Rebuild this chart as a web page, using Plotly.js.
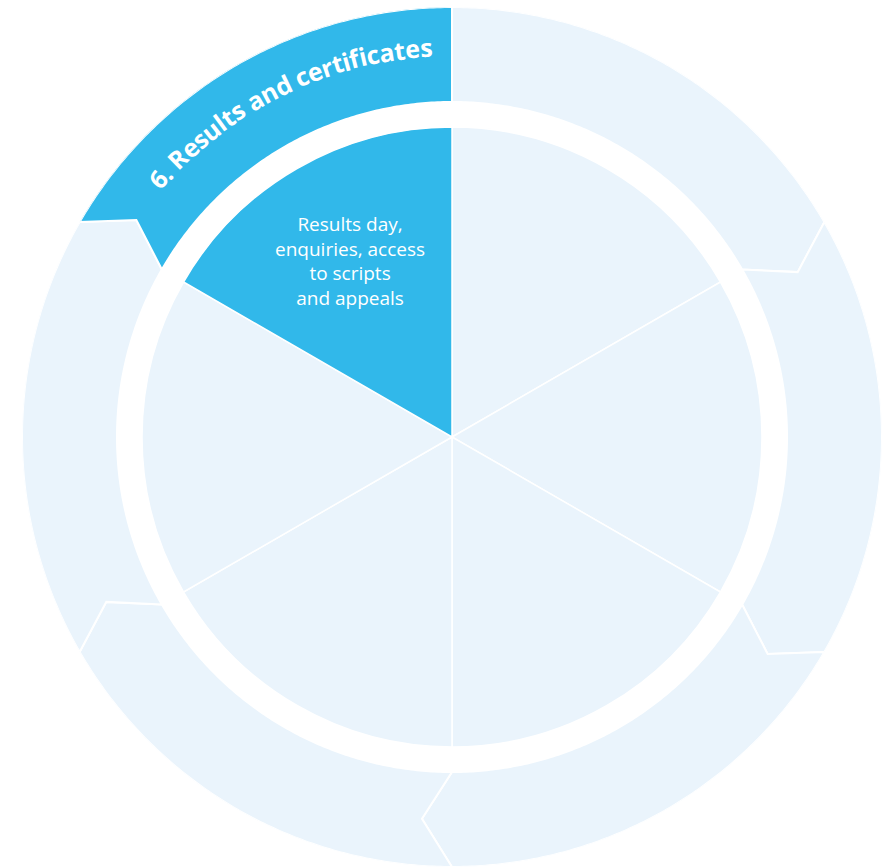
<!DOCTYPE html>
<html>
<head>
<meta charset="utf-8">
<script src="https://cdn.plot.ly/plotly-3.0.1.min.js"></script>
<style>
html,body{margin:0;padding:0;background:#ffffff;}
#chart{width:893px;height:867px;}
</style>
</head>
<body>
<div id="chart"></div>
<script>
// ---------------- data ----------------
const stages = ["Stage 1", "Stage 2", "Stage 3", "Stage 4", "Stage 5", "Stage 6"];
const stageShares = [1, 1, 1, 1, 1, 1];
const stageTitles = ["", "", "", "", "", "6. Results and certificates"];
const highlightedStage = 5;
const detailLines = ["Results day,", "enquiries, access", "to scripts", "and appeals"];

// ---------------- styles / geometry ----------------
const W = 893, H = 867;
const CX = 452, CY = 437;          // pixel centre of the wheel
const R = 430;                     // radial axis range in px units
const rPie = 310, rIn = 335, rOut = 430, rTip = 383, tipDeg = 4.5;
const colLight = "#EAF4FC", colHigh = "#31B8EA";
const fontFamily = "'Open Sans', 'Noto Sans', sans-serif";

// angles (clockwise from top) derived from shares
const total = stageShares.reduce((a, b) => a + b, 0);
const starts = [], ends = [], centers = [], widths = [];
let acc = 0;
stageShares.forEach(s => {
  const a0 = acc / total * 360;
  acc += s;
  const a1 = acc / total * 360;
  starts.push(a0); ends.push(a1); centers.push((a0 + a1) / 2); widths.push(a1 - a0);
});
const colors = stages.map((_, i) => i === highlightedStage ? colHigh : colLight);

const traces = [];

// outer arrow ring segments
stages.forEach((name, i) => {
  const a0 = starts[i], a1 = ends[i];
  const th = [], rr = [];
  const step = 0.5;
  for (let a = a0; a <= a1 + 1e-9; a += step) { th.push(a); rr.push(rOut); }
  if (i < stages.length - 1) { th.push(a1 + tipDeg); rr.push(rTip); }
  for (let a = a1; a >= a0 - 1e-9; a -= step) { th.push(a); rr.push(rIn); }
  if (i > 0) { th.push(a0 + tipDeg); rr.push(rTip); }
  th.push(th[0]); rr.push(rr[0]);
  traces.push({
    type: "scatterpolar", mode: "lines", fill: "toself",
    r: rr, theta: th, fillcolor: colors[i],
    line: {color: "#ffffff", width: 2}, hoverinfo: "skip", name: name
  });
});

// inner pie as barpolar
traces.push({
  type: "barpolar",
  theta: centers, width: widths, r: stages.map(() => rPie),
  marker: {color: colors, line: {color: "#ffffff", width: 1.5}},
  hoverinfo: "skip", name: "pie"
});

// ---------------- annotations ----------------
const annotations = [];
function toPaper(rad, deg) {
  const t = deg * Math.PI / 180;
  const x = CX + rad * Math.sin(t), y = CY - rad * Math.cos(t);
  return {x: x / W, y: 1 - y / H};
}

// curved title along the highlighted outer segment
const titleSize = 25;
const cv = document.createElement("canvas").getContext("2d");
cv.font = "700 " + titleSize + "px 'Open Sans'";
const letterSpace = 0;
stageTitles.forEach((title, i) => {
  if (!title) return;
  const chars = Array.from(title);
  const cw = chars.map(c => cv.measureText(c).width + letterSpace);
  const totalW = cw.reduce((a, b) => a + b, 0);
  const rText = 391;
  const thetaC = centers[i] + 3.6;
  let pos = -totalW / 2;
  chars.forEach((c, k) => {
    const mid = pos + cw[k] / 2;
    pos += cw[k];
    if (c === " ") return;
    const deg = thetaC + mid / rText * 180 / Math.PI;
    const p = toPaper(rText, deg);
    let ang = deg % 360; if (ang > 180) ang -= 360;
    annotations.push({
      xref: "paper", yref: "paper", x: p.x, y: p.y, xanchor: "center", yanchor: "middle",
      text: c, showarrow: false, textangle: ang,
      font: {family: fontFamily, size: titleSize, color: "#ffffff", weight: 700}
    });
  });
});

// detail text inside highlighted pie slice (one block, line spacing from the library)
const detailCenter = toPaper(203, centers[highlightedStage]);
annotations.push({
  xref: "paper", yref: "paper", x: detailCenter.x, y: detailCenter.y,
  xanchor: "center", yanchor: "middle", align: "center",
  text: detailLines.join("<br>"), showarrow: false,
  font: {family: fontFamily, size: 19, color: "#ffffff"}
});

const layout = {
  width: W, height: H,
  margin: {l: 0, r: 0, t: 0, b: 0, pad: 0},
  paper_bgcolor: "#ffffff",
  showlegend: false,
  polar: {
    domain: {x: [(CX - R) / W, (CX + R) / W], y: [Math.max(0, 1 - (CY + R) / H), 1 - (CY - R) / H]},
    bgcolor: "rgba(0,0,0,0)",
    radialaxis: {range: [0, R], visible: false, showgrid: false},
    angularaxis: {direction: "clockwise", rotation: 90, visible: false, showgrid: false},
    hole: 0
  },
  annotations: annotations
};

Plotly.newPlot("chart", traces, layout, {staticPlot: true, displayModeBar: false});
</script>
</body>
</html>
